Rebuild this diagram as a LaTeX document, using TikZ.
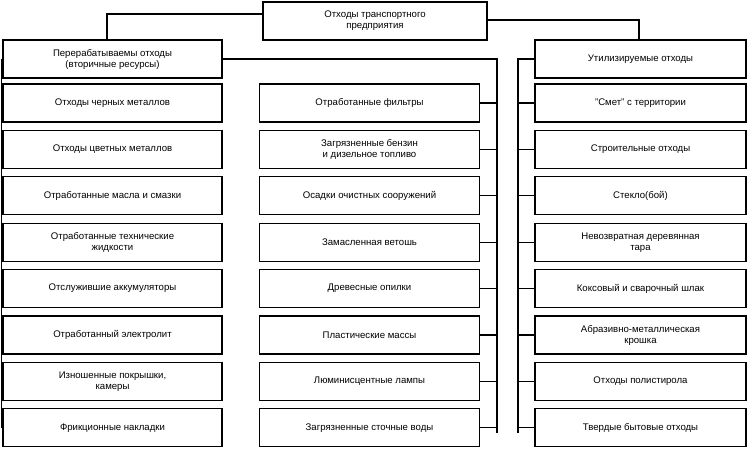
\documentclass[tikz,border=0pt]{standalone}
\usepackage{fontspec}
\setmainfont{Liberation Sans}
\begin{document}
\begin{tikzpicture}[x=1pt,y=-1pt,
  bx/.style={draw,line width=1.3pt,minimum height=38pt,align=center,font=\fontsize{9.6}{11}\selectfont,inner sep=1pt},
  ln/.style={line width=1.1pt}]
\useasboundingbox (0,0) rectangle (748,452);
\node[bx,minimum width=224pt] (top) at (375,21) {Отходы транспортного\\предприятия};
\node[bx,minimum width=219pt] (L0) at (112.5,59) {Перерабатываемы отходы\\(вторичные ресурсы)};
\node[bx,minimum width=211pt] (R0) at (640.5,59) {Утилизируемые отходы};
\foreach \i/\t in {1/Отходы черных металлов,2/Отходы цветных металлов,3/Отработанные масла и смазки,4/{Отработанные технические\\жидкости},5/Отслужившие аккумуляторы,6/Отработанный электролит,7/{Изношенные покрышки,\\камеры},8/Фрикционные накладки}
  \node[bx,minimum width=219pt] (L\i) at (112.5,{103+46.4*(\i-1)}) {\t};
\foreach \i/\t in {1/Отработанные фильтры,2/{Загрязненные бензин\\и дизельное топливо},3/Осадки очистных сооружений,4/Замасленная ветошь,5/Древесные опилки,6/Пластические массы,7/Люминисцентные лампы,8/Загрязненные сточные воды}
  \node[bx,minimum width=220pt] (M\i) at (369.5,{103+46.4*(\i-1)}) {\t};
\foreach \i/\t in {1/"Смет" с территории,2/Строительные отходы,3/Стекло(бой),4/{Невозвратная деревянная\\тара},5/Коксовый и сварочный шлак,6/{Абразивно-металлическая\\крошка},7/Отходы полистирола,8/Твердые бытовые отходы}
  \node[bx,minimum width=211pt] (R\i) at (640.5,{103+46.4*(\i-1)}) {\t};
% top connectors
\draw[ln] (top.west|-0,14) -| (L0.north-|107,0);
\draw[ln] (top.east|-0,20) -| (R0.north-|639,0);
% middle bus
\coordinate (mb) at (497,0);
\coordinate (mbe) at (0,433);
\draw[ln] (L0.east) -- (L0.east-|mb) -- (mb|-mbe);
\foreach \i in {1,...,8} \draw[ln] (M\i.east) -- (M\i.east-|mb);
% right bus
\coordinate (rb) at (518,0);
\draw[ln] (R0.west) -- (R0.west-|rb) -- (rb|-mbe);
\foreach \i in {1,...,8} \draw[ln] (R\i.west) -- (R\i.west-|rb);
% left bus
\coordinate (lb) at (1,0);
\draw[line width=0.6pt] (L0.west-|lb) -- (L8.west-|lb);
\end{tikzpicture}
\end{document}
